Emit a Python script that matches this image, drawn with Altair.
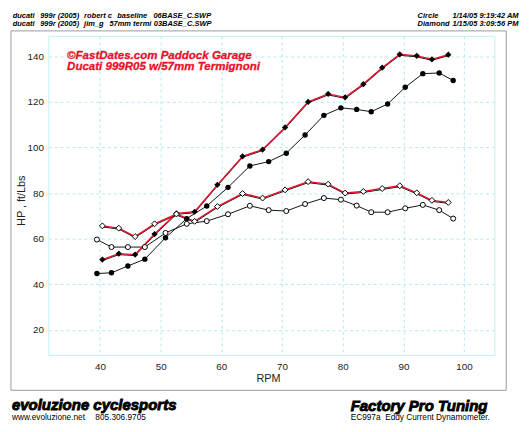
import altair as alt
import pandas as pd

# ---------------- data ----------------
circle_rpm = [39.5, 41.9, 44.6, 47.4, 50.8, 54.3, 57.6, 61.1, 64.7, 67.8, 70.7,
              73.8, 76.9, 79.7, 82.3, 84.7, 87.4, 90.3, 93.2, 95.9, 98.2]
circle_hp = [44.7, 45.0, 48.0, 51.0, 60.4, 68.8, 74.3, 82.5, 91.9, 93.8, 97.5,
             105.5, 114.1, 117.4, 116.7, 115.7, 119.1, 126.4, 132.4, 132.7, 129.4]
circle_tq = [59.6, 56.3, 56.3, 56.3, 62.5, 66.5, 67.7, 70.7, 74.4, 72.5, 72.1,
             75.2, 77.8, 77.1, 74.5, 71.6, 71.6, 73.3, 74.8, 72.5, 68.8]

diamond_rpm = [40.4, 43.1, 45.8, 49.0, 52.6, 55.6, 59.35, 63.5, 66.8, 70.5,
               74.3, 77.6, 80.4, 83.4, 86.5, 89.4, 92.2, 94.7, 97.4]
diamond_hp = [50.8, 53.4, 53.0, 62.0, 71.1, 71.8, 83.6, 96.1, 99.1, 108.8,
              120.0, 123.5, 122.0, 127.8, 135.0, 140.9, 140.2, 138.7, 140.7]
diamond_tq = [65.6, 64.6, 60.9, 66.5, 70.8, 67.6, 74.1, 79.8, 77.8, 81.4,
              85.0, 83.9, 80.0, 80.7, 82.0, 83.2, 80.1, 76.8, 75.9]

x_ticks = [40, 50, 60, 70, 80, 90, 100]
y_ticks = [20, 40, 60, 80, 100, 120, 140]

header_line1 = ["ducati", "999r (2005)", "robert c", "baseline", "06BASE_C.SWP"]
header_line2 = ["ducati", "999r (2005)", "jim_g", "57mm termi", "03BASE_C.SWP"]
legend_names = ["Circle", "Diamond"]
legend_dates = ["1/14/05 9:19:42 AM", "1/15/05 3:09:56 PM"]
title_lines = ["\u00a9FastDates.com Paddock Garage", "Ducati 999R05 w/57mm Termignoni"]
footer_left = ["evoluzione cyclesports", "www.evoluzione.net", "805.306.9705"]
footer_right = ["Factory Pro Tuning", "EC997a\u00a0\u00a0Eddy Current Dynamometer."]

circ = pd.DataFrame({"rpm": circle_rpm, "hp": circle_hp, "tq": circle_tq})
diam = pd.DataFrame({"rpm": diamond_rpm, "hp": diamond_hp, "tq": diamond_tq})
one = pd.DataFrame({"a": [0]})

RED = "#e8102a"
FONT = "Liberation Sans"

x_enc = alt.X("rpm:Q",
              scale=alt.Scale(domain=[31.5, 105], nice=False, zero=False),
              axis=alt.Axis(values=x_ticks, title="RPM", titleX=223, titleY=24,
                            titleBaseline="middle", titleAlign="center",
                            labelPadding=7))


def y_enc(field):
    return alt.Y(field + ":Q",
                 scale=alt.Scale(domain=[9, 149], nice=False, zero=False),
                 axis=alt.Axis(values=y_ticks, title="HP , ft/Lbs",
                               titleX=-27, titleY=167, titleAngle=270,
                               titleAlign="center", titleBaseline="middle",
                               labelPadding=5))


layers = []

# outer frame
layers.append(alt.Chart(one).mark_rect(fill=None, stroke="#9a9a9a", strokeWidth=1).encode(
    x=alt.value(-38), x2=alt.value(465), y=alt.value(-5), y2=alt.value(360)))

# lines
layers.append(alt.Chart(circ).mark_line(color="#111111", strokeWidth=1).encode(x=x_enc, y=y_enc("hp")))
layers.append(alt.Chart(circ).mark_line(color="#111111", strokeWidth=1).encode(x=x_enc, y=y_enc("tq")))
layers.append(alt.Chart(diam).mark_line(color="#111111", strokeWidth=1, yOffset=1).encode(x=x_enc, y=y_enc("hp")))
layers.append(alt.Chart(diam).mark_line(color=RED, strokeWidth=1.4).encode(x=x_enc, y=y_enc("hp")))
layers.append(alt.Chart(diam).mark_line(color="#111111", strokeWidth=1, yOffset=1).encode(x=x_enc, y=y_enc("tq")))
layers.append(alt.Chart(diam).mark_line(color=RED, strokeWidth=1.4).encode(x=x_enc, y=y_enc("tq")))

# points
layers.append(alt.Chart(circ).mark_point(shape="circle", filled=True, color="#000000", size=30, opacity=1).encode(
    x=x_enc, y=y_enc("hp")))
layers.append(alt.Chart(circ).mark_point(shape="circle", fill="white", stroke="#000000", strokeWidth=1,
                                         size=26, opacity=1, fillOpacity=1).encode(x=x_enc, y=y_enc("tq")))
layers.append(alt.Chart(diam).mark_point(shape="diamond", filled=True, color="#000000", size=40, opacity=1).encode(
    x=x_enc, y=y_enc("hp")))
layers.append(alt.Chart(diam).mark_point(shape="diamond", fill="white", stroke="#000000", strokeWidth=1,
                                         size=36, opacity=1, fillOpacity=1).encode(x=x_enc, y=y_enc("tq")))


def txt(s, px, py, size, color="#000000", weight="normal", style="normal", heavy=0):
    # px, py are page coordinates; plot origin is at page (49, 33)
    kw = dict(text=s, font=FONT, fontSize=size, fontWeight=weight, fontStyle=style,
              color=color, align="left", baseline="middle")
    if heavy:
        kw.update(stroke=color, strokeWidth=heavy)
    return alt.Chart(one).mark_text(**kw).encode(x=alt.value(px - 49), y=alt.value(py - 33))


hx1 = [12.7, 40.7, 85.3, 119, 155.7]
hx2 = [12.7, 40.7, 85.3, 111, 156]
for s, px in zip(header_line1, hx1):
    layers.append(txt(s, px, 13, 7.6, weight="bold", style="italic"))
for s, px in zip(header_line2, hx2):
    layers.append(txt(s, px, 21.5, 7.6, weight="bold", style="italic"))
for i, (n, d) in enumerate(zip(legend_names, legend_dates)):
    layers.append(txt(n, 424, 13 + 8.5 * i, 7.6, weight="bold", style="italic"))
    layers.append(txt(d, 459.3, 13 + 8.5 * i, 7.6, weight="bold", style="italic"))

layers.append(txt(title_lines[0], 68, 52.5, 11.7, color=RED, weight="bold", style="italic", heavy=0.3))
layers.append(txt(title_lines[1], 68, 63.5, 11.7, color=RED, weight="bold", style="italic", heavy=0.3))

layers.append(txt(footer_left[0], 12, 407.7, 15.2, weight="bold", style="italic", heavy=0.9))
layers.append(txt(footer_left[1], 12, 420.5, 8.4))
layers.append(txt(footer_left[2], 96.7, 420.5, 8.4))
layers.append(txt(footer_right[0], 356, 409, 15.2, weight="bold", style="italic", heavy=0.9))
layers.append(txt(footer_right[1], 356, 420.5, 8.4))

chart = alt.layer(*layers).properties(
    width=453, height=324,
    padding={"left": 41, "top": 25, "right": 28, "bottom": 69},
    autosize=alt.AutoSizeParams(type="none"),
    background="white",
).configure_view(
    stroke="#bfeff3", strokeWidth=1
).configure_axis(
    grid=True, gridColor="#b5e9ee", gridDash=[3, 3], gridWidth=1,
    domain=False, ticks=False,
    labelFont=FONT, labelFontSize=10, labelColor="#222222",
    titleFont=FONT, titleFontSize=11, titleFontWeight="normal", titleColor="#222222",
)

chart.save("out.html", embed_options={"renderer": "svg", "actions": False})
